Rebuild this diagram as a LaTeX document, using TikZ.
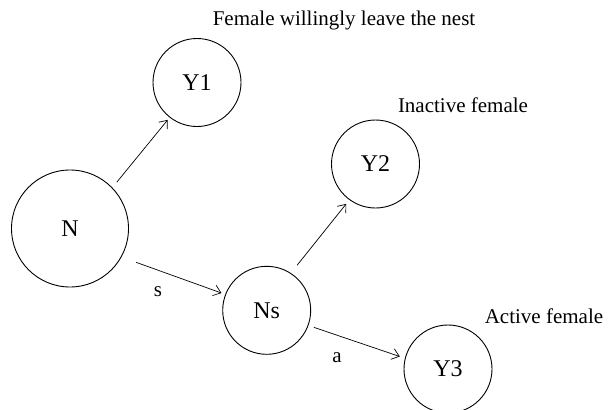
\documentclass[tikz,border=0pt]{standalone}
\usepackage{fontspec}
\setmainfont{Liberation Serif}
\usetikzlibrary{arrows.meta,positioning,calc}
\tikzset{stage/.style={circle, draw, line width=0.9pt, inner sep=0pt, minimum size=88pt, font=\fontsize{24}{28}\selectfont},
note/.style={anchor=base, font=\fontsize{21}{25}\selectfont},
link/.style={-{Straight Barb[length=7pt,width=11pt]}, line width=0.7pt}}

\begin{document}
\begin{tikzpicture}[x=1pt, y=-1pt]
        \useasboundingbox (0,0) rectangle (611,410);
        \node[stage, minimum size=117pt] (N) at (70, 228.5) {N};
        \node[stage] (Y1) at (197, 82.5) {Y1};
        \node[stage] (Ns) at (266.7, 310.3) {Ns};
        \node[stage] (Y2) at (375.5, 164) {Y2};
        \node[stage] (Y3) at (448, 369) {Y3};
        
        \node[note] (t1) at (344, 25) {Female willingly leave the nest};
        \node[note] (t2) at (463, 112) {Inactive female};
        \node[note] (t3) at (544, 323) {Active female};
        \node[note] (s) at (158, 296) {s};
        \node[note] (a) at (337, 362) {a};
        
        \draw[link, shorten <=7pt, shorten >=3pt] (N.44) -- (Y1.232);
        \draw[link, shorten <=15.5pt, shorten >=4pt] (N.-29) -- (Ns.159);
        \draw[link, shorten <=10pt, shorten >=5pt] (Ns.57) -- (Y2.234);
        \draw[link, shorten <=5.7pt, shorten >=5.4pt] (Ns.-20) -- (Y3.166);
    \end{tikzpicture}
\end{document}
